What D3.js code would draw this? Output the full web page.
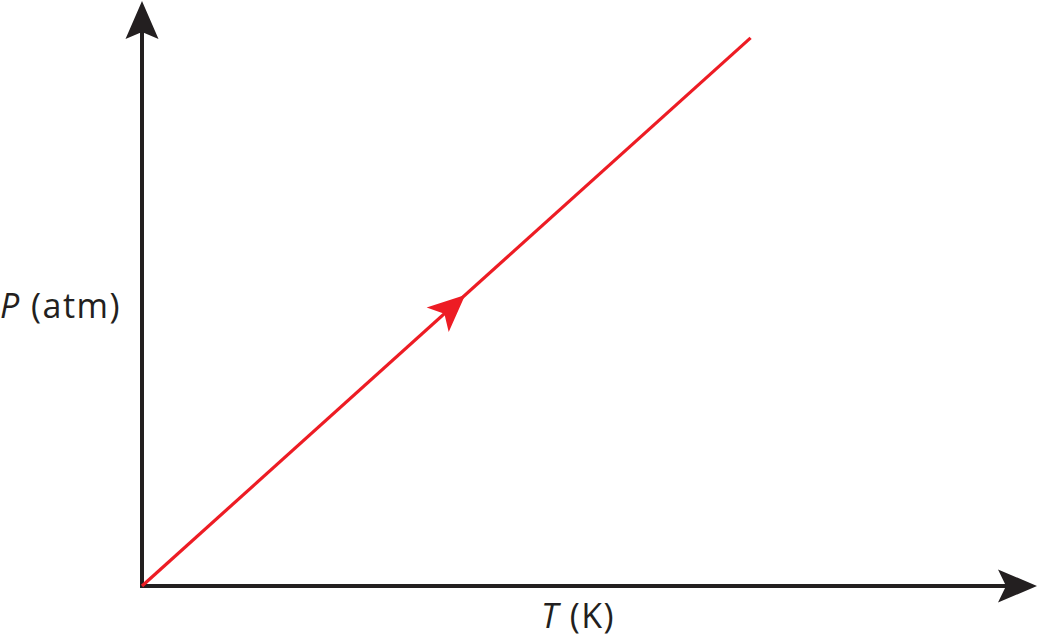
<!DOCTYPE html>
<html><head><meta charset="utf-8">
<script src="https://cdn.jsdelivr.net/npm/d3@7"></script>
<style>html,body{margin:0;padding:0;background:#fff;}svg{display:block;}</style>
</head><body>
<svg id="c" width="1038" height="643"></svg>
<script>
// Data (arbitrary units, no ticks in the reference)
const T = [0, 68];          // temperature endpoints of the process line
const P = [0, 93.7];        // pressure endpoints
const arrowAt = 0.531;      // fraction along line where direction arrow sits
const xLabel = "T";
const xUnit = " (K)";
const yLabel = "P";
const yUnit = " (atm)";

const svg = d3.select("#c");
const x = d3.scaleLinear().domain([0, 100]).range([142, 1037]);
const y = d3.scaleLinear().domain([0, 100]).range([586, 1]);

const axisColor = "#231f20";
const red = "#ed1c24";

// arrowhead path in local frame, tip at origin pointing +u
function headPath(len, hw, notch) {
  return `M0,0 L${-len},${-hw} L${-notch},0 L${-len},${hw} Z`;
}

// X axis
const gx = svg.append("g").attr("transform", `translate(0,${y(0)})`)
  .call(d3.axisBottom(x).tickValues([]).tickSizeOuter(0));
gx.select(".domain").attr("stroke", axisColor).attr("stroke-width", 4)
  .attr("d", `M${x(0)-2},0H${x(100)-20}`);
// Y axis
const gy = svg.append("g").attr("transform", `translate(${x(0)},0)`)
  .call(d3.axisLeft(y).tickValues([]).tickSizeOuter(0));
gy.select(".domain").attr("stroke", axisColor).attr("stroke-width", 4)
  .attr("d", `M0,${y(0)+2}V${y(100)+20}`);

// axis arrowheads
svg.append("path").attr("d", headPath(39, 16.5, 31))
  .attr("fill", axisColor)
  .attr("transform", `translate(${x(100)},${y(0)})`);
svg.append("path").attr("d", headPath(38, 16.5, 31))
  .attr("fill", axisColor)
  .attr("transform", `translate(${x(0)},${y(100)}) rotate(-90)`);

// process line
const pts = T.map((t, i) => [t, P[i]]);
svg.append("path").datum(pts)
  .attr("d", d3.line().x(d => x(d[0])).y(d => y(d[1])))
  .attr("stroke", red).attr("stroke-width", 3.2).attr("fill", "none");

// direction arrow
const ax = x(T[0] + (T[1]-T[0])*arrowAt);
const ay = y(P[0] + (P[1]-P[0])*arrowAt);
const ang = Math.atan2(y(P[1]) - y(P[0]), x(T[1]) - x(T[0])) * 180 / Math.PI;
svg.append("path").attr("d", headPath(37, 16.5, 28))
  .attr("fill", red)
  .attr("transform", `translate(${ax},${ay}) rotate(${ang})`);

// labels
const font = "'Open Sans', 'Noto Sans', sans-serif";
const yl = svg.append("text").attr("x", 0).attr("y", 318)
  .attr("font-family", font).attr("font-size", 34).attr("letter-spacing", 1.5)
  .attr("fill", axisColor);
yl.append("tspan").attr("font-style", "italic").text(yLabel);
yl.append("tspan").text(yUnit);

const xl = svg.append("text").attr("x", 578).attr("y", 628)
  .attr("text-anchor", "middle")
  .attr("font-family", font).attr("font-size", 34).attr("letter-spacing", 1.5)
  .attr("fill", axisColor);
xl.append("tspan").attr("font-style", "italic").text(xLabel);
xl.append("tspan").text(xUnit);
</script>
</body></html>
